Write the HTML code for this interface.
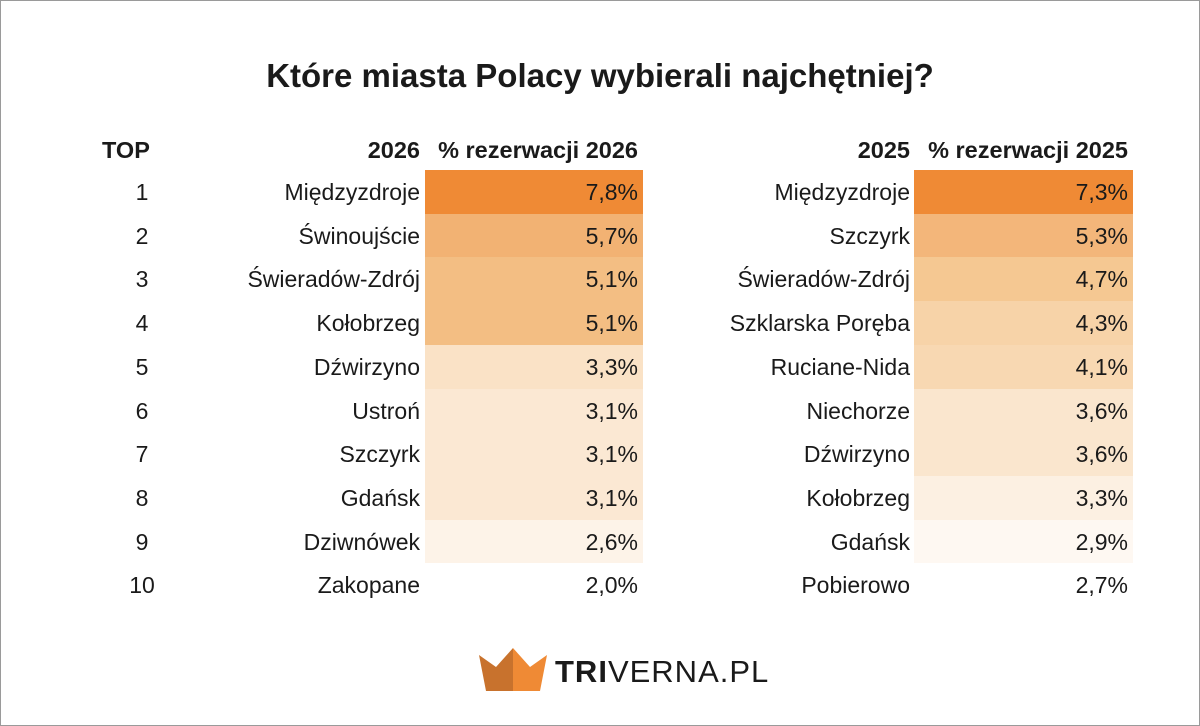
<!DOCTYPE html>
<html><head><meta charset="utf-8"><style>
*{margin:0;padding:0;box-sizing:border-box}
body{width:1200px;height:726px;background:#fff;font-family:"Liberation Sans",sans-serif;color:#1a1a1a;position:relative;overflow:hidden}
.frame{position:absolute;left:0;top:0;width:1200px;height:726px;border:1px solid #9a9a9a}
.t{position:absolute;white-space:nowrap;font-size:23px;line-height:44px}
.h{font-weight:bold;font-size:23.5px}
.r{text-align:right}
.cell{position:absolute;height:44px}
</style></head><body>
<div class="frame"></div>
<div class="t" style="left:0;width:1200px;text-align:center;top:54px;font-size:33px;font-weight:bold;line-height:44px">Które miasta Polacy wybierali najchętniej?</div>
<div class="t h" style="left:102px;top:128px">TOP</div>
<div class="t h r" style="left:300px;width:120px;top:128px">2026</div>
<div class="t h r" style="left:400px;width:238px;top:128px">% rezerwacji 2026</div>
<div class="t h r" style="left:790px;width:120px;top:128px">2025</div>
<div class="t h r" style="left:890px;width:238px;top:128px">% rezerwacji 2025</div>
<div id="rows"></div>
<script>
var L=[["Międzyzdroje","7,8%","#EF8A35"],["Świnoujście","5,7%","#F2B273"],["Świeradów-Zdrój","5,1%","#F3BE83"],["Kołobrzeg","5,1%","#F3BE83"],["Dźwirzyno","3,3%","#FAE2C6"],["Ustroń","3,1%","#FBE8D3"],["Szczyrk","3,1%","#FBE8D3"],["Gdańsk","3,1%","#FBE8D3"],["Dziwnówek","2,6%","#FDF3E8"],["Zakopane","2,0%","#FFFFFF"]];
var R=[["Międzyzdroje","7,3%","#EF8A35"],["Szczyrk","5,3%","#F3B67A"],["Świeradów-Zdrój","4,7%","#F5C892"],["Szklarska Poręba","4,3%","#F7D3A8"],["Ruciane-Nida","4,1%","#F8D8B2"],["Niechorze","3,6%","#FAE6CE"],["Dźwirzyno","3,6%","#FAE6CE"],["Kołobrzeg","3,3%","#FCF0E2"],["Gdańsk","2,9%","#FEF8F2"],["Pobierowo","2,7%","#FFFFFF"]];
var h="";
for(var i=0;i<10;i++){var y=170+i*43.7;
h+='<div class="cell" style="left:425px;width:218px;top:'+y+'px;background:'+L[i][2]+'"></div>';
h+='<div class="cell" style="left:914px;width:219px;top:'+y+'px;background:'+R[i][2]+'"></div>';
h+='<div class="t" style="left:120px;width:44px;text-align:center;top:'+y+'px">'+(i+1)+'</div>';
h+='<div class="t r" style="left:180px;width:240px;top:'+y+'px">'+L[i][0]+'</div>';
h+='<div class="t r" style="left:430px;width:208px;top:'+y+'px">'+L[i][1]+'</div>';
h+='<div class="t r" style="left:670px;width:240px;top:'+y+'px">'+R[i][0]+'</div>';
h+='<div class="t r" style="left:920px;width:208px;top:'+y+'px">'+R[i][1]+'</div>';}
document.getElementById("rows").innerHTML=h;
</script>
<svg style="position:absolute;left:479px;top:648px" width="68" height="43" viewBox="0 0 68 43">
<polygon points="0,7 17,19 34,0 34,43 7,43" fill="#C8722D"/>
<polygon points="34,0 51,19 68,7 61,43 34,43" fill="#EF8A35"/>
</svg>
<div class="t" style="left:555px;top:650px;font-size:31px;line-height:44px;letter-spacing:1px;color:#1a1a1a"><b>TRI</b>VERNA.PL</div>
</body></html>
